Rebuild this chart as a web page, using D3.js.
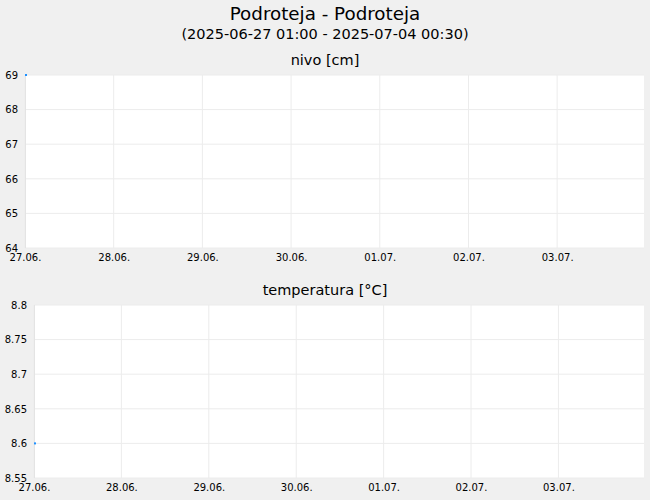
<!DOCTYPE html>
<html>
<head>
<meta charset="utf-8">
<script src="https://cdn.jsdelivr.net/npm/d3@7"></script>
<style>
  body { margin: 0; background: #f0f0f0; font-family: "DejaVu Sans", sans-serif; }
  .grid line { stroke: #ececec; stroke-width: 1; }
  .tick text { fill: #000; }
</style>
</head>
<body>
<div id="chart"></div>
<script>
const title = "Podroteja - Podroteja";
const subtitle = "(2025-06-27 01:00 - 2025-07-04 00:30)";
const rangeStart = "2025-06-27T01:00";
const rangeEnd = "2025-07-04T00:30";

const nivoTimes = ["2025-06-27T01:00"];
const nivoValues = [69];
const nivoTicks = [64, 65, 66, 67, 68, 69];

const tempTimes = ["2025-06-27T01:00"];
const tempValues = [8.6];
const tempTicks = [8.55, 8.6, 8.65, 8.7, 8.75, 8.8];

const panelTitles = ["nivo [cm]", "temperatura [°C]"];

const W = 650, H = 500;
const parse = d3.timeParse("%Y-%m-%dT%H:%M");
const fmtDay = d3.timeFormat("%d.%m.");
const svg = d3.select("#chart").append("svg").attr("width", W).attr("height", H);

svg.append("text").attr("x", W / 2).attr("y", 20).attr("text-anchor", "middle")
  .style("font-size", "18.3px").text(title);
svg.append("text").attr("x", W / 2).attr("y", 39).attr("text-anchor", "middle")
  .style("font-size", "14.5px").text(subtitle);

const t0 = parse(rangeStart), t1 = parse(rangeEnd);
// tick every 24h from the start
const xTicks = d3.range(0, 7).map((i) => new Date(t0.getTime() + i * 864e5));

function panel(cfg) {
  const { left, top, right, bottom, label, labelY, times, values, ticks, fmt } = cfg;
  const g = svg.append("g");
  g.append("text").attr("x", W / 2).attr("y", labelY).attr("text-anchor", "middle")
    .style("font-size", "14.5px").text(label);
  g.append("rect").attr("x", left).attr("y", top).attr("width", right - left)
    .attr("height", bottom - top).attr("fill", "#fff");

  const x = d3.scaleTime().domain([t0, t1]).range([left, right]);
  const y = d3.scaleLinear().domain(d3.extent(ticks)).range([bottom, top]);

  g.append("g").attr("class", "grid")
    .selectAll("line.h").data(ticks).enter().append("line")
    .attr("x1", left).attr("x2", right).attr("y1", (d) => y(d)).attr("y2", (d) => y(d));
  g.append("g").attr("class", "grid")
    .selectAll("line.v").data(xTicks).enter().append("line")
    .attr("x1", (d) => x(d)).attr("x2", (d) => x(d)).attr("y1", top).attr("y2", bottom);

  const yAxis = g.append("g").attr("transform", `translate(${left - 1},0)`)
    .call(d3.axisLeft(y).tickValues(ticks).tickFormat(fmt).tickSize(0).tickPadding(6));
  yAxis.select(".domain").remove();
  yAxis.selectAll("text").style("font-size", "10px").style("font-family", "DejaVu Sans, sans-serif");

  const xAxis = g.append("g").attr("transform", `translate(0,${bottom})`)
    .call(d3.axisBottom(x).tickValues(xTicks).tickFormat(fmtDay).tickSize(0).tickPadding(6));
  xAxis.select(".domain").remove();
  xAxis.selectAll("text").style("font-size", "10px").style("font-family", "DejaVu Sans, sans-serif");

  // left frame line
  g.append("line").attr("x1", left + 0.5).attr("x2", left + 0.5).attr("y1", top).attr("y2", bottom)
    .attr("stroke", "#e4e4e4");

  g.selectAll("rect.pt").data(times).enter().append("rect")
    .attr("x", (d) => x(parse(d)))
    .attr("y", (d, i) => y(values[i]) - 1)
    .attr("width", 2).attr("height", 2)
    .attr("fill", "#1e90ff");
}

panel({ left: 25, top: 75, right: 644, bottom: 248, label: panelTitles[0], labelY: 65,
  times: nivoTimes, values: nivoValues, ticks: nivoTicks, fmt: d3.format("d") });
panel({ left: 34, top: 305, right: 644, bottom: 478, label: panelTitles[1], labelY: 295,
  times: tempTimes, values: tempValues, ticks: tempTicks, fmt: (d) => String(+d.toFixed(2)) });
</script>
</body>
</html>
